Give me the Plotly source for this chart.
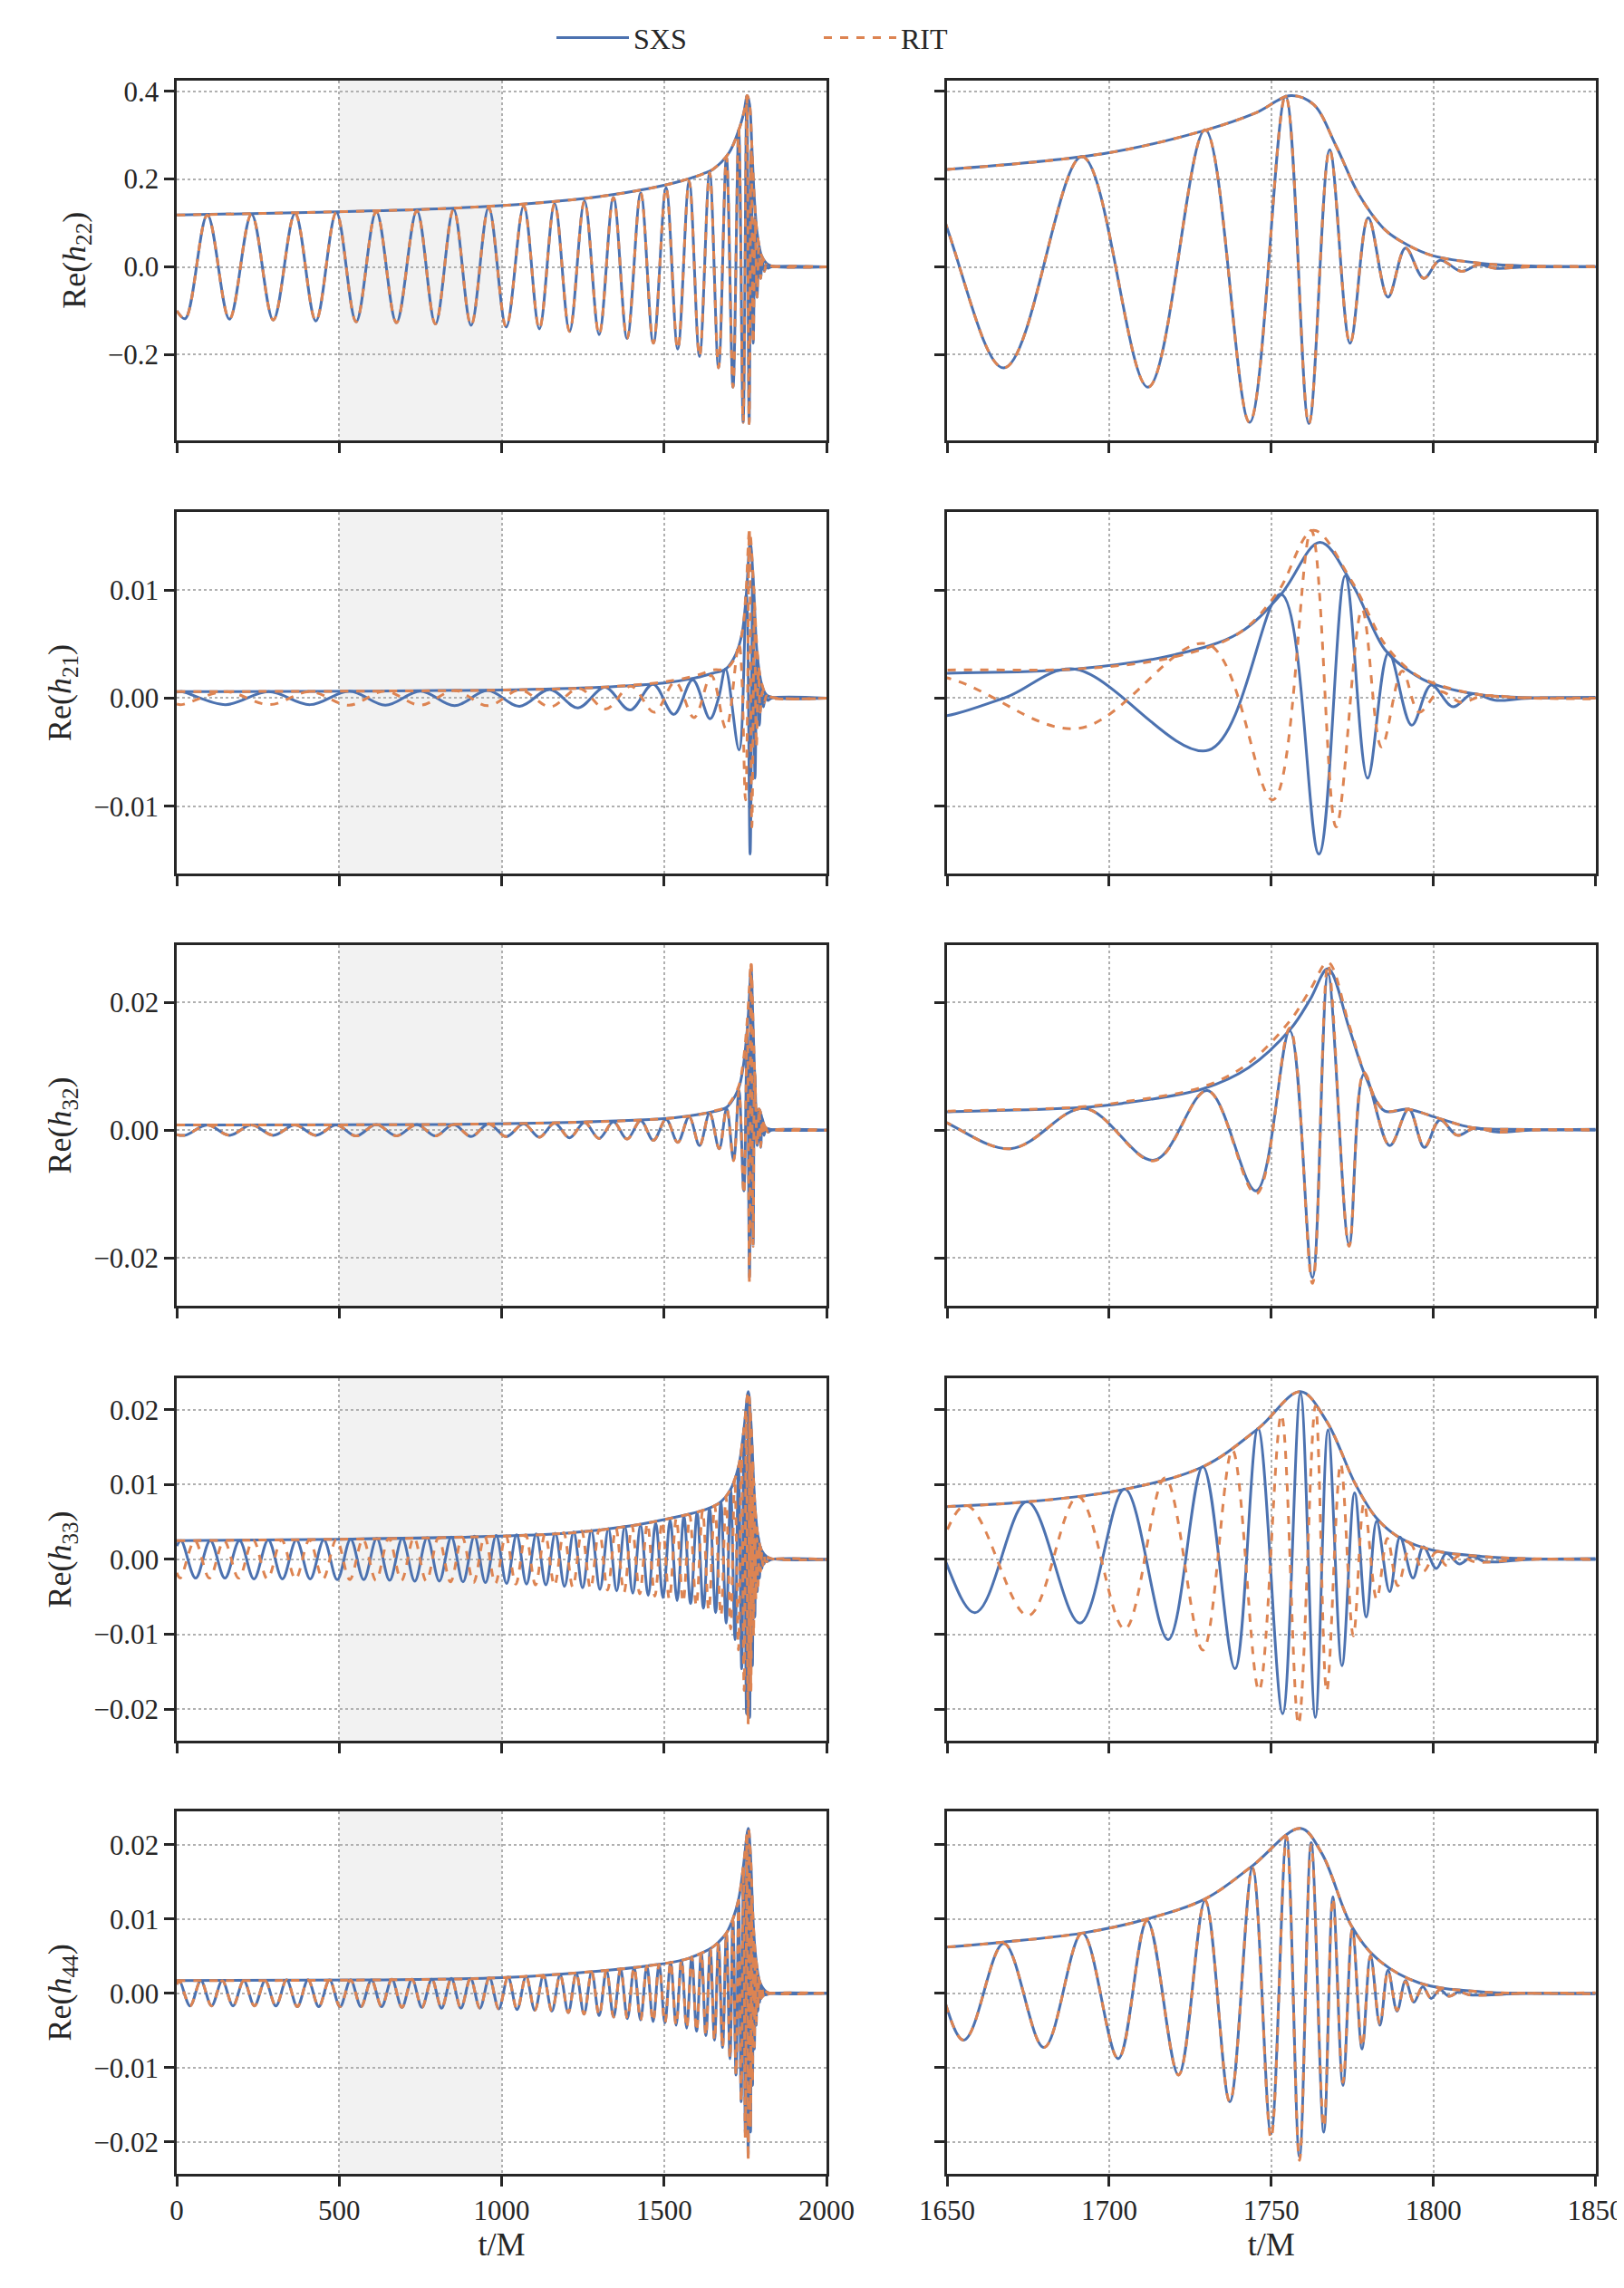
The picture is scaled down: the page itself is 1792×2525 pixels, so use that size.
import plotly.graph_objects as go
from plotly.subplots import make_subplots

# ---- data (extrema of Re(h) and |h| envelope) ----
modes = ['22', '21', '32', '33', '44']

# h22 / h32 share the early inspiral extrema times
t_m2_early = [26, 94, 162, 230, 297, 364, 428, 491, 552, 614, 676, 739, 796, 852, 906, 960,
              1014, 1068, 1116, 1163, 1209, 1255, 1300, 1344, 1386, 1428, 1467, 1506, 1542,
              1577, 1609, 1640]
a22_early = [0.118, 0.118, 0.119, 0.120, 0.121, 0.122, 0.123, 0.124, 0.125, 0.126, 0.127,
             0.128, 0.130, 0.131, 0.133, 0.135, 0.137, 0.139, 0.141, 0.144, 0.147, 0.150,
             0.154, 0.158, 0.163, 0.168, 0.174, 0.180, 0.187, 0.195, 0.204, 0.215]
h22_late = [(1667.5, -0.23), (1691.7, 0.251), (1712, -0.274), (1729.6, 0.312), (1743.3, -0.354),
            (1754.4, 0.389), (1761.6, -0.357), (1768, 0.267), (1774.3, -0.174), (1779.9, 0.112),
            (1786, -0.069), (1791.4, 0.043), (1797, -0.026), (1802, 0.015), (1808.6, -0.01),
            (1814, 0.005), (1819, -0.003), (1830, 0), (2000, 0)]
h22_env = [(0, 0.118), (400, 0.124), (800, 0.132), (1100, 0.145), (1300, 0.16), (1450, 0.178),
           (1550, 0.195), (1620, 0.212), (1650, 0.222), (1700, 0.26), (1730, 0.312), (1745, 0.35),
           (1756, 0.39), (1763, 0.37), (1770, 0.275), (1777, 0.165), (1785, 0.085), (1792, 0.05),
           (1800, 0.025), (1815, 0.008), (1830, 0.002), (2000, 0)]

a32_early = [0.0008, 0.0008, 0.0008, 0.0008, 0.0008, 0.0008, 0.0008, 0.0008, 0.0009, 0.0009,
             0.0009, 0.0009, 0.0009, 0.0009, 0.0010, 0.0010, 0.0010, 0.0010, 0.0011, 0.0011,
             0.0012, 0.0012, 0.0013, 0.0013, 0.0014, 0.0015, 0.0016, 0.0017, 0.0019, 0.0021,
             0.0024, 0.0027]
h32_sxs_late = [(1669.5, -0.0029), (1692.4, 0.0034), (1713.9, -0.0047), (1730.3, 0.0062),
                (1745.3, -0.0095), (1755.7, 0.0156), (1762.7, -0.0231), (1767.5, 0.0245),
                (1774, -0.0179), (1778.6, 0.0088), (1786.5, -0.0024), (1792.4, 0.0033),
                (1797.2, -0.0027), (1802, 0.0016), (1807.4, -0.0008), (1812.6, 0.0003),
                (1819.8, -0.0003), (1830, 0), (2000, 0)]
h32_rit_late = [(1669.5, -0.0029), (1692.4, 0.0034), (1713.9, -0.0048), (1730.3, 0.0062),
                (1745.3, -0.0100), (1755.7, 0.0160), (1762.7, -0.0240), (1767.5, 0.0260),
                (1774, -0.0182), (1778.6, 0.0090), (1786.5, -0.0024), (1792.4, 0.0033),
                (1797.2, -0.0026), (1802, 0.0016), (1807.4, -0.0008), (1812.6, 0.0003),
                (1819.8, -0.0003), (1830, 0), (2000, 0)]
h32_sxs_env = [(0, 0.0008), (800, 0.0009), (1200, 0.0012), (1500, 0.0018), (1600, 0.0024),
               (1652, 0.0029), (1690, 0.0035), (1704, 0.0042), (1729, 0.0065), (1743, 0.0098),
               (1756, 0.0159), (1762, 0.0205), (1767.5, 0.0253), (1774, 0.0160), (1779, 0.0085),
               (1785, 0.0030), (1792, 0.0033), (1802, 0.0018), (1812, 0.0004), (1830, 0.0001),
               (2000, 0)]
h32_rit_env = [(0, 0.0008), (800, 0.0009), (1200, 0.0012), (1500, 0.0018), (1600, 0.0024),
               (1652, 0.0030), (1690, 0.0036), (1704, 0.0044), (1729, 0.0068), (1743, 0.0105),
               (1756, 0.0173), (1762, 0.0220), (1767.5, 0.0263), (1774, 0.0165), (1779, 0.0087),
               (1785, 0.0031), (1792, 0.0033), (1802, 0.0018), (1812, 0.0004), (1830, 0.0001),
               (2000, 0)]

t21_sxs_early = [15, 150, 283, 410, 532, 642, 750, 855, 957, 1055, 1148, 1235, 1318, 1395,
                 1466, 1530, 1588, 1641]
a21_sxs_early = [0.0006, 0.0006, 0.0006, 0.0006, 0.00065, 0.00065, 0.00065, 0.0007, 0.0007,
                 0.00075, 0.0008, 0.0009, 0.001, 0.0011, 0.0013, 0.0015, 0.0017, 0.0019]
t21_rit_early = [15, 150, 285, 410, 530, 640, 750, 855, 958, 1057, 1150, 1238, 1320, 1398,
                 1470, 1534, 1592, 1645]
a21_rit_early = [0.0006, 0.0006, 0.0006, 0.0006, 0.00065, 0.00065, 0.00065, 0.0007, 0.0007,
                 0.00075, 0.0008, 0.0009, 0.001, 0.0011, 0.0013, 0.0015, 0.0018, 0.0021]
h21_sxs_late = [(1667.5, 0.0), (1689, 0.0027), (1730.7, -0.0048), (1753, 0.0096),
                (1764.7, -0.0144), (1772.8, 0.0113), (1779.7, -0.0074), (1786.2, 0.0042),
                (1793.3, -0.0025), (1799.3, 0.0012), (1806, -0.0008), (1812, 0.0004),
                (1819, -0.0002), (1830, 0), (2000, 0)]
h21_rit_late = [(1690.4, -0.0028), (1730.3, 0.005), (1750.5, -0.0094), (1762.3, 0.0155),
                (1770, -0.0119), (1778, 0.0082), (1784, -0.0045), (1790.4, 0.0025),
                (1795.6, -0.0013), (1802, 0.0006), (1808.7, -0.0004), (1815, 0.0002),
                (1830, 0), (2000, 0)]
h21_sxs_env = [(0, 0.0006), (600, 0.00065), (1000, 0.00075), (1300, 0.001), (1500, 0.0014),
               (1600, 0.0019), (1650, 0.0023), (1690, 0.0027), (1720, 0.004), (1740, 0.006),
               (1753, 0.0096), (1765, 0.0144), (1775, 0.0105), (1785, 0.0045), (1793, 0.0024),
               (1800, 0.0013), (1815, 0.0003), (1850, 0), (2000, 0)]
h21_rit_env = [(0, 0.0006), (600, 0.00065), (1000, 0.00075), (1300, 0.001), (1500, 0.0015),
               (1600, 0.0021), (1650, 0.0026), (1690, 0.0027), (1720, 0.0038), (1740, 0.006),
               (1752, 0.0098), (1763, 0.0155), (1775, 0.0107), (1785, 0.005), (1793, 0.0025),
               (1800, 0.0014), (1815, 0.0003), (1850, 0), (2000, 0)]

t33_early = [13, 58, 103, 148, 193, 237.5, 281.5, 325, 368, 410.5, 452.5, 494, 535, 575.5, 615.5,
             655, 694, 732.5, 770.5, 808, 845, 881, 916, 950, 983, 1015, 1046, 1076.5, 1106.5,
             1136, 1165, 1193.5, 1221.5, 1249, 1276, 1302.5, 1328.5, 1354, 1379, 1403.5, 1427.5,
             1451, 1474, 1496.5, 1518.5, 1540, 1561, 1581.5, 1601.5, 1621, 1640]
a33_early = [0.0025, 0.0025, 0.0025, 0.0025, 0.0025, 0.0026, 0.0026, 0.0026, 0.0026, 0.0026,
             0.0026, 0.0027, 0.0027, 0.0027, 0.0028, 0.0028, 0.0028, 0.0029, 0.0029, 0.0029,
             0.0030, 0.0030, 0.0031, 0.0031, 0.0032, 0.0032, 0.0033, 0.0033, 0.0034, 0.0034,
             0.0035, 0.0036, 0.0037, 0.0038, 0.0039, 0.0040, 0.0041, 0.0042, 0.0044, 0.0045,
             0.0046, 0.0048, 0.0049, 0.0051, 0.0053, 0.0055, 0.0057, 0.0059, 0.0062, 0.0065,
             0.0068]
h33_sxs_late = [(1658.6, -0.0071), (1674.7, 0.0077), (1691, -0.0085), (1704.8, 0.0094),
                (1718.2, -0.0107), (1728.9, 0.0124), (1738.8, -0.0146), (1745.9, 0.0175),
                (1753.5, -0.0206), (1759, 0.0222), (1763.6, -0.0211), (1767.5, 0.0173),
                (1771.8, -0.0142), (1775.7, 0.0089), (1779.3, -0.0077), (1782.5, 0.0051),
                (1786.5, -0.0043), (1789.7, 0.003), (1793.7, -0.0025), (1796.9, 0.0017),
                (1800.9, -0.0012), (1804, 0.0008), (1808, -0.0006), (1812, 0.0004),
                (1816, -0.0003), (1830, 0), (2000, 0)]
h33_rit_late = [(1655.8, 0.0072), (1675, -0.0075), (1690.4, 0.0084), (1704.8, -0.0093),
                (1717.2, 0.0109), (1728.9, -0.0121), (1738, 0.0146), (1746.2, -0.0175),
                (1753.1, 0.0193), (1758.4, -0.022), (1763.6, 0.0205), (1767.1, -0.0176),
                (1771.4, 0.0128), (1775.3, -0.0102), (1778.6, 0.0075), (1782.5, -0.0053),
                (1785.8, 0.0028), (1789, -0.0035), (1793, 0.002), (1796.9, -0.0016),
                (1800.9, 0.001), (1804, -0.0008), (1808, 0.0005), (1812.6, -0.0003),
                (1830, 0), (2000, 0)]
h33_env = [(0, 0.0025), (500, 0.0027), (900, 0.003), (1200, 0.0035), (1400, 0.0045),
           (1520, 0.0055), (1600, 0.0063), (1652, 0.0071), (1675, 0.0077), (1704, 0.0093),
           (1729, 0.0124), (1746, 0.0175), (1759, 0.0224), (1767, 0.0185), (1776, 0.010),
           (1782.5, 0.0055), (1790, 0.0028), (1800, 0.0012), (1815, 0.0004), (1830, 0.0001),
           (2000, 0)]
rit33_shift = -2.5  # RIT h33 runs half a cycle ahead of SXS during the inspiral

t44_early = [8, 41, 74, 107, 140, 173, 206, 239, 272, 305, 338, 371, 404, 437, 470, 502.5, 535,
             567, 599, 630.5, 662, 693, 724, 754.5, 785, 815, 845, 874.5, 904, 933, 962, 991,
             1019.5, 1047.5, 1075, 1102, 1128.5, 1154.5, 1180, 1205, 1229.5, 1253.5, 1277, 1300,
             1322.5, 1344.5, 1366, 1387, 1407.5, 1427.5, 1447, 1466, 1484.5, 1502.5, 1520, 1537,
             1553.5, 1569.5, 1585, 1600, 1614.5, 1628.5, 1642]
a44_early = [0.0017, 0.0017, 0.0017, 0.0017, 0.0017, 0.0017, 0.0017, 0.0017, 0.0017, 0.0017,
             0.0018, 0.0018, 0.0018, 0.0018, 0.0018, 0.0018, 0.0018, 0.0018, 0.0018, 0.0018,
             0.0019, 0.0019, 0.0019, 0.0019, 0.0019, 0.0020, 0.0020, 0.0020, 0.0020, 0.0020,
             0.0021, 0.0021, 0.0022, 0.0022, 0.0023, 0.0023, 0.0024, 0.0024, 0.0025, 0.0026,
             0.0027, 0.0028, 0.0029, 0.0030, 0.0031, 0.0032, 0.0033, 0.0034, 0.0035, 0.0036,
             0.0037, 0.0038, 0.0039, 0.0040, 0.0042, 0.0043, 0.0045, 0.0047, 0.0049, 0.0051,
             0.0054, 0.0057, 0.0060]
h44_sxs_late = [(1655.1, -0.0063), (1667.5, 0.0067), (1679.9, -0.0073), (1691.7, 0.0081),
                (1702.8, -0.0088), (1711.7, 0.0098), (1721.4, -0.011), (1729.6, 0.0125),
                (1737.2, -0.0146), (1744.2, 0.0169), (1749.9, -0.0189), (1754.7, 0.0211),
                (1758.7, -0.022), (1762.3, 0.0203), (1766.2, -0.0187), (1769, 0.013),
                (1772.1, -0.0124), (1775, 0.0087), (1778, -0.0075), (1780.6, 0.0051),
                (1783.5, -0.0043), (1786, 0.0031), (1788.8, -0.0024), (1791.4, 0.0017),
                (1794, -0.0012), (1796.7, 0.0009), (1799.3, -0.0007), (1802, 0.0005),
                (1804.8, -0.0004), (1808, 0.0002), (1811, -0.0002), (1830, 0), (2000, 0)]
h44_rit_late = [(1655.1, -0.0063), (1667.5, 0.0067), (1679.9, -0.0073), (1691.7, 0.0081),
                (1702.8, -0.0088), (1711.7, 0.0098), (1721.4, -0.011), (1729.6, 0.0125),
                (1737.2, -0.0146), (1744.2, 0.0169), (1749.9, -0.0195), (1754.7, 0.0211),
                (1758.7, -0.0225), (1762.3, 0.0200), (1766.2, -0.0180), (1769, 0.0128),
                (1772.1, -0.0120), (1775, 0.0085), (1778, -0.0072), (1780.6, 0.0050),
                (1783.5, -0.0041), (1786, 0.0030), (1788.8, -0.0023), (1791.4, 0.0016),
                (1794, -0.0012), (1796.7, 0.0009), (1799.3, -0.0007), (1802, 0.0005),
                (1804.8, -0.0004), (1808, 0.0002), (1811, -0.0002), (1830, 0), (2000, 0)]
h44_env = [(0, 0.0017), (600, 0.0018), (1000, 0.0021), (1300, 0.003), (1450, 0.0037),
           (1560, 0.0045), (1620, 0.0055), (1652, 0.0063), (1667.5, 0.0069), (1691.7, 0.0081),
           (1711.7, 0.01), (1730, 0.0128), (1744, 0.0171), (1759, 0.0222), (1765.5, 0.0189),
           (1774.7, 0.0091), (1782.5, 0.0047), (1795.6, 0.0014), (1815, 0.0002), (1830, 0),
           (2000, 0)]

y_ranges = {'22': [-0.395, 0.425], '21': [-0.0162, 0.0172], '32': [-0.0275, 0.029],
            '33': [-0.0242, 0.0242], '44': [-0.0243, 0.0245]}
y_ticks = {'22': [-0.2, 0.0, 0.2, 0.4], '21': [-0.01, 0.0, 0.01], '32': [-0.02, 0.0, 0.02],
           '33': [-0.02, -0.01, 0.0, 0.01, 0.02], '44': [-0.02, -0.01, 0.0, 0.01, 0.02]}
y_labels = {'22': ['−0.2', '0.0', '0.2', '0.4'], '21': ['−0.01', '0.00', '0.01'],
            '32': ['−0.02', '0.00', '0.02'],
            '33': ['−0.02', '−0.01', '0.00', '0.01', '0.02'],
            '44': ['−0.02', '−0.01', '0.00', '0.01', '0.02']}


def alt(times, amps, last_sign):
    # extrema alternate in sign, last one has last_sign
    n = len(times)
    out = []
    for i in range(n):
        s = last_sign if (n - 1 - i) % 2 == 0 else -last_sign
        out.append((times[i], s * amps[i]))
    return out


series = {
    '22': (alt(t_m2_early, a22_early, 1), h22_late, h22_env,
           alt(t_m2_early, a22_early, 1), h22_late, h22_env, -0.10, -0.10),
    '21': (alt(t21_sxs_early, a21_sxs_early, -1), h21_sxs_late, h21_sxs_env,
           alt(t21_rit_early, a21_rit_early, 1), h21_rit_late, h21_rit_env, 0.00055, -0.00055),
    '32': (alt(t_m2_early, a32_early, 1), h32_sxs_late, h32_sxs_env,
           alt(t_m2_early, a32_early, 1), h32_rit_late, h32_rit_env, -0.0007, -0.0007),
    '33': (alt(t33_early, a33_early, 1), h33_sxs_late, h33_env,
           [(t + rit33_shift, -v) for t, v in alt(t33_early, a33_early, 1)], h33_rit_late,
           h33_env, 0.0018, -0.0018),
    '44': (alt(t44_early, a44_early, 1), h44_sxs_late, h44_env,
           alt(t44_early, a44_early, 1), h44_rit_late, h44_env, 0.0012, 0.0012),
}

blue = '#4C72B0'
orange = '#DD8452'
font = 'Liberation Serif'
ink = '#262626'

fig = make_subplots(rows=5, cols=2)

x_dom = [[0.1044, 0.5045], [0.5787, 0.9780]]
y_dom = [[0.8107, 0.9681], [0.6214, 0.7794], [0.4325, 0.5901], [0.2424, 0.4008],
         [0.0531, 0.2115]]

for r, m in enumerate(modes):
    s_early, s_late, s_env, r_early, r_late, r_env, s0, r0 = series[m]
    sxs = [(0, s0)] + s_early + s_late
    rit = [(0, r0)] + r_early + r_late
    for c in (1, 2):
        show = (r == 0 and c == 1)
        curves = [
            (sxs, blue, 'solid', 'SXS', show),
            (s_env, blue, 'solid', 'SXS', False),
            (rit, orange, 'dash', 'RIT', show),
            (r_env, orange, 'dash', 'RIT', False),
        ]
        for pts, col, dash, name, leg in curves:
            fig.add_trace(go.Scatter(
                x=[p[0] for p in pts], y=[p[1] for p in pts], mode='lines', name=name,
                showlegend=leg, legendgroup=name,
                line=dict(color=col, width=3, dash=dash, shape='spline', smoothing=1.0)),
                row=r + 1, col=c)

for r, m in enumerate(modes):
    for c in (1, 2):
        idx = r * 2 + c
        xa = 'xaxis' if idx == 1 else 'xaxis%d' % idx
        ya = 'yaxis' if idx == 1 else 'yaxis%d' % idx
        if c == 1:
            xr, xt = [0, 2000], [0, 500, 1000, 1500, 2000]
        else:
            xr, xt = [1650, 1850], [1650, 1700, 1750, 1800, 1850]
        common = dict(
            ticks='outside', ticklen=11, tickwidth=2.5, tickcolor=ink,
            showline=True, linecolor=ink, linewidth=2.5, mirror=True,
            showgrid=True, gridcolor='#b0b0b0', griddash='dot', gridwidth=1.8,
            zeroline=False, automargin=False,
            tickfont=dict(family=font, size=31, color=ink))
        fig.layout[xa].update(domain=x_dom[c - 1], range=xr, tickvals=xt,
                              showticklabels=(r == 4), **common)
        fig.layout[ya].update(domain=y_dom[r], range=y_ranges[m], tickvals=y_ticks[m],
                              ticktext=y_labels[m], showticklabels=(c == 1), **common)
        if r == 4:
            fig.layout[xa].update(title=dict(text='t/M', font=dict(family=font, size=36),
                                             standoff=6))
        if c == 1:
            fig.layout[ya].update(title=dict(
                text='Re(<i>h</i><sub>%s</sub>)' % m, font=dict(family=font, size=36),
                standoff=14))
            fig.add_vrect(x0=500, x1=1000, fillcolor='#d9d9d9', opacity=0.35, line_width=0,
                          layer='below', row=r + 1, col=1)

fig.update_layout(
    width=1792, height=2525, plot_bgcolor='white', paper_bgcolor='white',
    margin=dict(l=0, r=0, t=0, b=0),
    font=dict(family=font, color=ink),
    legend=dict(orientation='h', x=0.5, xanchor='center', y=0.9975, yanchor='top',
                font=dict(family=font, size=32), itemwidth=80, entrywidth=200),
)

fig.write_html('out.html')
